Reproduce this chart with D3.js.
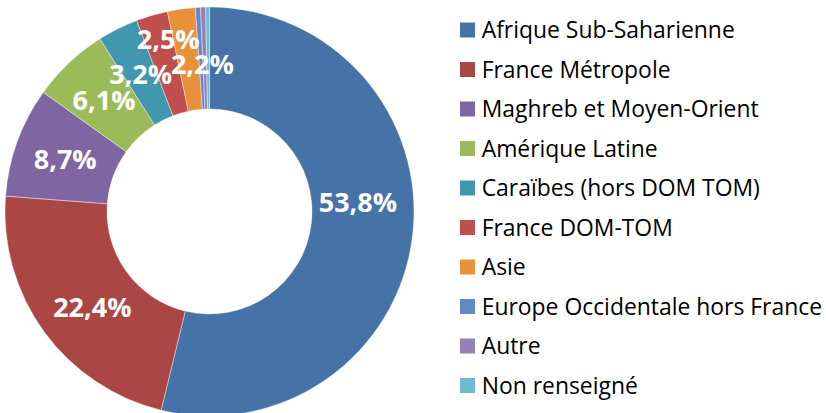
<!DOCTYPE html>
<html><head><meta charset="utf-8">
<script src="https://cdn.jsdelivr.net/npm/d3@7"></script>
<style>body{margin:0;background:#fff}svg{display:block}</style>
</head><body>
<svg id="c" width="826" height="413"></svg>
<script>
const categories = ["Afrique Sub-Saharienne","France Métropole","Maghreb et Moyen-Orient","Amérique Latine","Caraïbes (hors DOM TOM)","France DOM-TOM","Asie","Europe Occidentale hors France","Autre","Non renseigné"];
const values = [53.8,22.4,8.7,6.1,3.2,2.5,2.2,0.4,0.4,0.3];
const labels = ["53,8%","22,4%","8,7%","6,1%","3,2%","2,5%","2,2%","","",""];
const colors = ["#4673A7","#AA4744","#7F65A1","#9BBB59","#4197AF","#C0504D","#E8913A","#6389C4","#9580B8","#6CBCD0"];

const svg = d3.select("#c");
const cx = 209.5, cy = 211.5, rO = 204.5, rI = 102.5;
const g = svg.append("g").attr("transform", `translate(${cx},${cy})`);
const pie = d3.pie().sort(null).value(d => d)(values);
const arc = d3.arc().innerRadius(rI).outerRadius(rO);
g.selectAll("path").data(pie).join("path")
  .attr("d", arc).attr("fill", (d,i) => colors[i])
  .attr("stroke", "#fff").attr("stroke-width", 0.4);

const mid = d3.arc().innerRadius((rI+rO)/2).outerRadius((rI+rO)/2);
// manual label nudges for readability (as in original)
const nudge = {0:[-4,-28],1:[7,6],5:[2,-25],6:[14,5]};
g.selectAll("text.lbl").data(pie).join("text").attr("class","lbl")
  .attr("transform", (d,i) => { const c = mid.centroid(d); const n = nudge[i]||[0,0]; return `translate(${c[0]+n[0]},${c[1]+n[1]})`; })
  .attr("text-anchor","middle").attr("dy","0.36em")
  .attr("font-family","Open Sans").attr("font-weight","bold").attr("font-size",27)
  .attr("fill","#fff").text((d,i) => labels[i]);

const leg = svg.append("g");
const items = leg.selectAll("g").data(categories).join("g")
  .attr("transform", (d,i) => `translate(460,${30 + i*39.5})`);
items.append("rect").attr("x",0).attr("y",-7.5).attr("width",15).attr("height",15).attr("fill",(d,i)=>colors[i]);
items.append("text").attr("x",21.7).attr("dy","0.36em")
  .attr("font-family","Open Sans").attr("font-size",22.9).attr("fill","#000").text(d=>d);
</script>
</body></html>
